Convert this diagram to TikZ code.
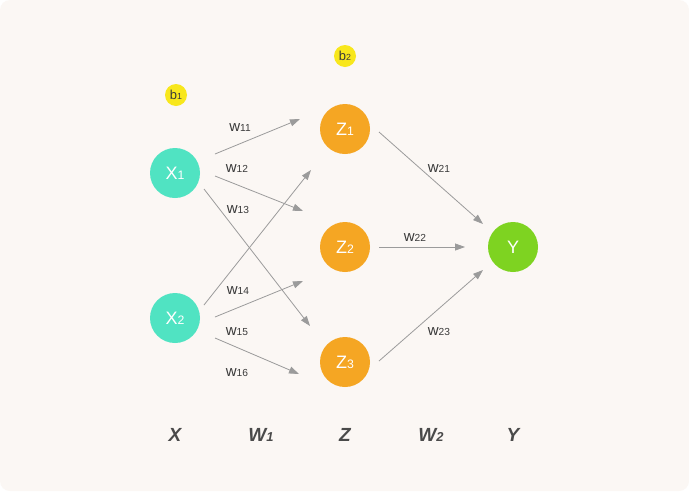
\documentclass[tikz,border=0pt]{standalone}
\usepackage{fontspec}
\setmainfont{Liberation Sans}
\usetikzlibrary{arrows.meta}
\definecolor{bgcol}{HTML}{FBF7F4}
\definecolor{tealcol}{HTML}{50E3C2}
\definecolor{orangecol}{HTML}{F5A623}
\definecolor{greencol}{HTML}{7ED321}
\definecolor{yellowcol}{HTML}{F8E71C}
\definecolor{linecol}{HTML}{9B9B9B}
\definecolor{textcol}{HTML}{3A3A3A}
\definecolor{layercol}{HTML}{4A4A4A}
\newcommand{\idx}[1]{\scalebox{0.68}{#1}}
\tikzset{
  neuron/.style={circle,minimum size=50pt,inner sep=0pt,text=white,
    font=\fontsize{18}{18}\selectfont},
  xnode/.style={neuron,fill=tealcol},
  znode/.style={neuron,fill=orangecol},
  ynode/.style={neuron,fill=greencol},
  bias/.style={circle,minimum size=22pt,inner sep=0pt,fill=yellowcol,
    text=textcol,font=\fontsize{13}{13}\selectfont},
  wlabel/.style={text=textcol,inner sep=0pt,font=\fontsize{15}{15}\selectfont},
  layer/.style={text=layercol,inner sep=0pt,
    font=\fontsize{19}{19}\selectfont\bfseries\itshape},
  link/.style={draw=linecol,line width=0.8pt,-{Triangle[length=10pt,width=7pt]}}
}
\begin{document}
\begin{tikzpicture}[x=1pt,y=-1pt]
  \fill[white] (0,0) rectangle (689,491);
  \useasboundingbox (0,0) rectangle (689,491);
  \fill[bgcol,rounded corners=10pt] (0,0) rectangle (689,491);
  % neurons
  \path
    (175,173) node[xnode] (x1){X\idx{1}}
    (175,318) node[xnode] (x2){X\idx{2}}
    (345,129) node[znode] (z1){Z\idx{1}}
    (345,247) node[znode] (z2){Z\idx{2}}
    (345,362) node[znode] (z3){Z\idx{3}}
    (513,247) node[ynode] (y){Y}
    (176,95) node[bias] (b1){b\idx{1}}
    (345,56) node[bias] (b2){b\idx{2}};
  % arrow ends
  \path
    (215,154) coordinate (s11) (300,119) coordinate (e11)
    (215,176) coordinate (s12) (303,211) coordinate (e12)
    (204,189) coordinate (s13) (310,326) coordinate (e13)
    (204,305) coordinate (s14) (311,170) coordinate (e14)
    (215,317) coordinate (s15) (303,281) coordinate (e15)
    (215,338) coordinate (s16) (299,374) coordinate (e16)
    (379,132) coordinate (s21) (483,224) coordinate (e21)
    (379,247) coordinate (s22) (465,247) coordinate (e22)
    (379,361) coordinate (s23) (483,270) coordinate (e23);
  \begin{scope}[link]
    \draw (s11) to (e11);
    \draw (s12) to (e12);
    \draw (s13) to (e13);
    \draw (s14) to (e14);
    \draw (s15) to (e15);
    \draw (s16) to (e16);
    \draw (s21) to (e21);
    \draw (s22) to (e22);
    \draw (s23) to (e23);
  \end{scope}
  % weights
  \path
    (240,128) node[wlabel] (w11){w\idx{11}}
    (237,169) node[wlabel] (w12){w\idx{12}}
    (238,210) node[wlabel] (w13){w\idx{13}}
    (238,291) node[wlabel] (w14){w\idx{14}}
    (237,332) node[wlabel] (w15){w\idx{15}}
    (237,373) node[wlabel] (w16){w\idx{16}}
    (439,169) node[wlabel] (w21){w\idx{21}}
    (415,238) node[wlabel] (w22){w\idx{22}}
    (439,332) node[wlabel] (w23){w\idx{23}};
  % layer names
  \path
    (175,435) node[layer] (lx){X}
    (261,435) node[layer] (lw1){W\idx{1}}
    (345,435) node[layer] (lz){Z}
    (431,435) node[layer] (lw2){W\idx{2}}
    (513,435) node[layer] (ly){Y};
\end{tikzpicture}
\end{document}
